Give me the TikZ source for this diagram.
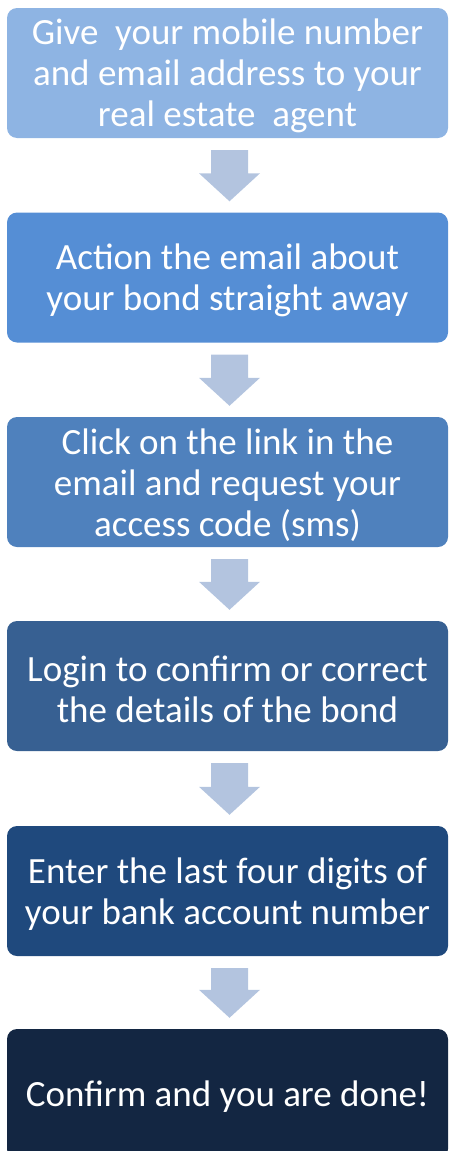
\documentclass[tikz,border=0pt]{standalone}
\usepackage{fontspec}
\setmainfont{Carlito}
\usetikzlibrary{calc}
\definecolor{stepA}{RGB}{142,180,227}
\definecolor{stepB}{RGB}{85,142,213}
\definecolor{stepC}{RGB}{79,129,189}
\definecolor{stepD}{RGB}{55,96,146}
\definecolor{stepE}{RGB}{31,73,125}
\definecolor{stepF}{RGB}{19,38,66}
\definecolor{arrowblue}{RGB}{179,196,223}
% block arrow pointing from one step down to the next
\newcommand\flowarrow[2]{%
  \fill[arrowblue]
    ($(#1.south)+(-16.5,12)$) -- ($(#1.south)+(20.5,12)$)
    -- ($(#2.north)+(20.5,-39)$) -- ($(#2.north)+(32.5,-39)$)
    -- ($(#2.north)+(2,-11)$)
    -- ($(#2.north)+(-28.5,-39)$) -- ($(#2.north)+(-16.5,-39)$) -- cycle;}
\begin{document}
\begin{tikzpicture}[x=1pt,y=-1pt,
  stepbox/.style={rounded corners=10pt, minimum width=441pt, minimum height=130pt,
    inner sep=0pt},
  steptext/.style={text=white, align=center, inner sep=0pt, yshift=-3pt,
    font=\fontsize{37}{41}\selectfont}]
\path[use as bounding box] (0,0) rectangle (449,1151);
\begin{scope}
\clip (0,0) rectangle (449,1151);
\node[stepbox, fill=stepA, label={[steptext]center:{Give\ \ your mobile number\\and email address to your\\real estate\ \ agent}}] (s1) at (227.5,73) {};
\node[stepbox, fill=stepB, label={[steptext]center:{Action the email about\\your bond straight away}}] (s2) at (227.5,277.5) {};
\node[stepbox, fill=stepC, label={[steptext]center:{Click on the link in the\\email and request your\\access code (sms)}}] (s3) at (227.5,482) {};
\node[stepbox, fill=stepD, label={[steptext]center:{Login to confirm or correct\\the details of the bond}}] (s4) at (227.5,686) {};
\node[stepbox, fill=stepE, label={[steptext]center:{Enter the last four digits of\\your bank account number}}] (s5) at (227.5,891) {};
\node[stepbox, fill=stepF, label={[steptext]center:{Confirm and you are done!}}] (s6) at (227.5,1094) {};
\flowarrow{s1}{s2}
\flowarrow{s2}{s3}
\flowarrow{s3}{s4}
\flowarrow{s4}{s5}
\flowarrow{s5}{s6}
\end{scope}
\end{tikzpicture}
\end{document}
